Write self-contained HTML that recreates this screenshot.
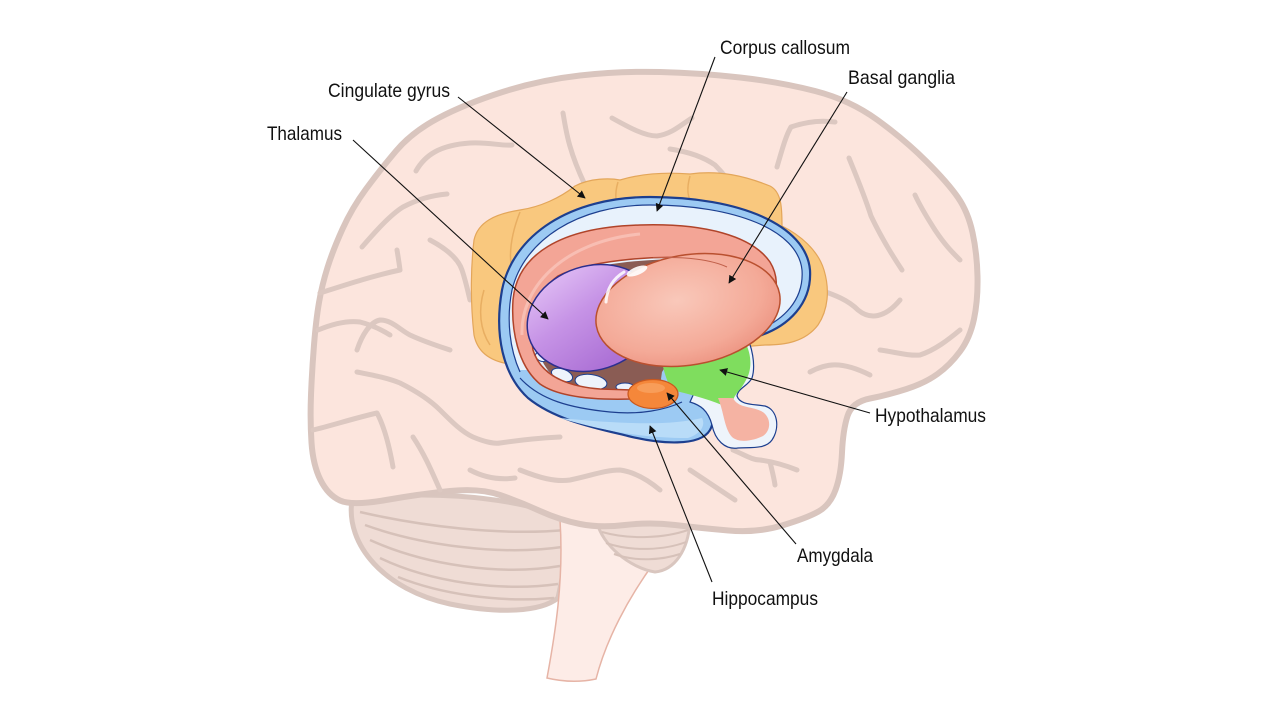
<!DOCTYPE html>
<html><head><meta charset="utf-8"><style>
html,body{margin:0;padding:0;background:#fff;}
svg{display:block;}
text{font-family:"Liberation Sans",Arial,sans-serif;font-size:19.5px;fill:#111;}
</style></head><body>
<svg width="1280" height="720" viewBox="0 0 1280 720" xmlns="http://www.w3.org/2000/svg">
<defs>
<marker id="ah" viewBox="0 0 10 10" refX="9" refY="5" markerWidth="8" markerHeight="8" markerUnits="userSpaceOnUse" orient="auto">
<path d="M0,0 L10,5 L0,10 Z" fill="#111"/></marker>
<linearGradient id="thal" x1="0" y1="0" x2="0.4" y2="1">
<stop offset="0" stop-color="#e4c4f6"/><stop offset="0.5" stop-color="#c693e6"/><stop offset="1" stop-color="#ad72d6"/></linearGradient>
<radialGradient id="lent" cx="0.45" cy="0.4" r="0.65">
<stop offset="0" stop-color="#f9c8ba"/><stop offset="0.7" stop-color="#f4aa98"/><stop offset="1" stop-color="#ec9280"/></radialGradient>
</defs>
<rect width="1280" height="720" fill="#fff"/>

<!-- cerebellum left -->
<path d="M352,500 C345,545 385,590 450,604 C500,614 540,612 558,598 C564,570 568,545 574,522 L560,515 C500,495 420,490 352,500 Z" fill="#efdcd5" stroke="#d9c6bf" stroke-width="5"/>
<g fill="none" stroke="#d6c1b9" stroke-width="2.5">
<path d="M360,512 C420,526 500,536 566,530"/>
<path d="M365,525 C420,545 500,556 562,547"/>
<path d="M370,540 C425,565 500,576 560,566"/>
<path d="M380,558 C430,582 500,592 558,584"/>
<path d="M398,577 C440,594 500,603 554,598"/>
</g>
<!-- brainstem -->
<path d="M560,520 C564,580 555,635 547,678 Q572,684 596,679 C606,640 628,598 656,560 L650,520 Z" fill="#fdece7" stroke="#e6b4a6" stroke-width="1.5"/>
<!-- pons striped piece -->
<path d="M597,522 C602,545 630,568 655,572 C675,570 688,550 690,522 Z" fill="#efdcd5" stroke="#d9c6bf" stroke-width="3"/>
<g fill="none" stroke="#d6c1b9" stroke-width="2">
<path d="M602,532 C630,540 665,538 688,530"/>
<path d="M606,543 C632,552 665,550 686,542"/>
<path d="M614,554 C636,562 662,560 680,554"/>
</g>

<!-- cerebrum -->
<path d="M340,500.5 Q328,495 320.5,480 Q313,465 311.5,442.5 Q310,420 311,395 Q312,370 314,345 Q316,320 319,302.5 Q322,285 327.5,267.5 Q333,250 342.5,229 Q352,208 366,189 Q380,170 396,151 Q412,132 438.5,118 Q465,104 502.5,92 Q540,80 580,75.5 Q620,71 660,72 Q700,73 740,77.5 Q780,82 815,91 Q850,100 877.5,120 Q905,140 926.5,161.5 Q948,183 958,197.5 Q968,212 972.5,232.5 Q977,253 977.5,276.5 Q978,300 974,319 Q970,338 960,351.5 Q950,365 937.5,374 Q925,383 906.5,389 Q888,395 870,398.5 Q852,402 847.5,416 Q843,430 842,452.5 Q841,475 835.5,490 Q830,505 818.5,511.5 Q807,518 782,525.5 Q757,533 728.5,530.5 Q700,528 675,525 Q650,522 625,525 Q600,528 580,524 Q560,520 540,511 Q520,502 500,495 Q480,488 450,491 Q420,494 386,500 Q352,506 340,500.5 Z" fill="#fce5dd" stroke="#d9c5be" stroke-width="6"/>

<!-- sulci -->
<g fill="none" stroke="#dcc8c1" stroke-width="5" stroke-linecap="round" stroke-linejoin="round">
<path d="M416,171 C425,155 440,145 470,143 C490,142 500,146 512,145"/>
<path d="M563,113 C566,130 568,149 585,185"/>
<path d="M612,118 C630,128 645,136 657,136 C672,134 682,124 692,118"/>
<path d="M670,149 C690,152 705,158 715,165 C725,175 732,185 737,194"/>
<path d="M777,167 C782,150 786,135 791,127 C805,122 820,120 835,122"/>
<path d="M849,158 C858,180 866,200 871,216 C880,235 892,255 902,270"/>
<path d="M915,195 C922,210 930,222 935,230 C945,245 952,252 960,260"/>
<path d="M880,350 C895,352 908,356 920,355 C935,350 948,340 960,330"/>
<path d="M820,290 C835,295 848,300 858,310 C870,320 885,318 900,300"/>
<path d="M810,372 C825,364 840,360 870,375"/>
<path d="M362,247 C375,232 390,215 403,207 C420,198 435,195 447,194"/>
<path d="M318,330 C330,325 345,320 360,322 C372,325 382,330 390,335"/>
<path d="M357,350 C362,335 370,322 380,320 C392,320 400,330 410,335 C425,342 438,346 450,350"/>
<path d="M357,372 C372,375 388,378 400,383 C418,392 430,400 440,410 C452,422 462,432 473,437 C485,442 495,444 500,443 C520,440 540,438 560,437"/>
<path d="M313,430 C330,426 355,418 377,413 C385,428 390,450 393,467"/>
<path d="M413,437 C425,455 432,472 440,490"/>
<path d="M320,293 C345,285 372,276 400,270 C399,262 398,256 397,250"/>
<path d="M520,470 C540,478 555,482 570,480 C590,476 605,470 620,470 C635,472 648,480 660,490"/>
<path d="M733,450 C745,455 752,460 760,460 C775,462 787,466 797,470"/>
<path d="M770,462 C772,470 774,478 775,485"/>
<path d="M430,240 C445,248 458,258 462,270 C466,282 468,292 470,300"/>
<path d="M470,470 C485,478 500,480 515,478"/>
<path d="M690,470 C705,480 720,490 735,500"/>
</g>

<!-- cingulate gyrus -->
<path d="M474,240 C478,222 495,214 520,210 C540,207 560,198 575,186 C590,178 610,178 620,180 C640,174 665,172 690,174 C720,170 745,176 770,186 C782,192 782,210 782,226 C800,235 818,250 824,270 C830,290 828,310 818,325 C805,342 785,345 765,345 L520,365 C495,364 478,355 474,335 C470,300 471,265 474,240 Z" fill="#f9c87e" stroke="#e3a65a" stroke-width="1.2"/>
<g fill="none" stroke="#e8ae62" stroke-width="1.5">
<path d="M520,212 C512,232 508,252 512,272"/>
<path d="M618,182 C614,195 616,205 620,210"/>
<path d="M690,176 C686,190 688,198 692,204"/>
<path d="M780,228 C790,250 800,270 806,292"/>
<path d="M484,290 C478,310 480,330 490,345"/>
</g>

<!-- limbic blue outer -->
<path d="M752,338 C790,328 812,302 810,270 C806,225 740,197 650,197 C570,197 513,235 502,290 C494,335 503,375 528,398 C555,420 595,428 628,436 C660,444 700,447 710,430 C718,415 708,402 695,398 C690,380 720,360 752,338 Z" fill="#9ccaf3" stroke="#1d3f8f" stroke-width="2.2"/>
<path d="M560,418 C600,430 640,438 688,438 C700,434 706,426 702,418 C670,426 620,424 560,418 Z" fill="#b9dcf8"/>
<!-- corpus callosum interior -->
<path d="M748,334 C786,322 804,298 802,270 C798,230 735,205 650,205 C578,205 524,240 512,290 C506,320 510,350 520,370 L700,370 Z" fill="#e8f2fc"/>
<path d="M748,334 C786,322 804,298 802,270 C798,230 735,205 650,205 C578,205 524,240 512,290 C506,320 510,350 520,372" fill="none" stroke="#1d3f8f" stroke-width="1.2"/>
<path d="M520,378 C540,400 570,408 610,412 C640,415 665,410 682,402" fill="none" stroke="#1d3f8f" stroke-width="1.2"/>

<!-- hypothalamus outline -->
<path d="M745,334 C752,345 756,365 752,378 C748,386 738,388 737,396 C740,405 752,404 765,406 C778,410 780,428 772,440 C765,450 748,447 738,448 C725,450 715,440 712,425 C708,410 700,405 690,402 L700,380 Z" fill="#eef4fb" stroke="#1d3f8f" stroke-width="1.2"/>

<!-- brown ventricle -->
<path d="M545,290 C565,266 640,256 715,260 L725,266 L690,330 L662,372 L660,386 C630,391 585,390 560,381 C540,369 532,340 535,315 Z" fill="#8a5c54"/>
<g fill="#eef3fb" stroke="#1d3f8f" stroke-width="1">
<ellipse cx="541" cy="357" rx="6" ry="4" transform="rotate(30 541 357)"/>
<ellipse cx="562" cy="375" rx="11" ry="6" transform="rotate(20 562 375)"/>
<ellipse cx="591" cy="382" rx="16" ry="7.5" transform="rotate(8 591 382)"/>
<ellipse cx="625" cy="387" rx="9" ry="4"/>
</g>

<!-- green hypothalamus -->
<path d="M662,362 C695,362 725,358 745,342 C752,355 752,370 746,380 C740,392 732,395 733,405 L722,405 C705,398 688,394 672,390 C667,382 664,372 662,362 Z" fill="#7fdd5e"/>
<!-- pituitary -->
<path d="M718,398 C724,412 724,428 732,437 C740,444 755,440 763,436 C772,430 771,416 761,411 C750,406 738,408 733,398 Z" fill="#f5b3a3"/>

<!-- caudate -->
<path d="M632,399 C600,400 560,398 540,384 C518,366 511,330 513,300 C517,255 560,227 640,225 C705,223 752,236 770,262 C778,275 778,290 772,300 C762,280 740,264 700,259 C650,254 585,262 558,276 C536,292 528,322 533,350 C540,373 562,386 600,389 L632,390 Z" fill="#f3a596" stroke="#b0442a" stroke-width="1.5"/>
<path d="M522,335 C520,290 560,242 640,234" fill="none" stroke="#f9c9bf" stroke-width="3" opacity="0.7"/>

<!-- thalamus -->
<ellipse cx="592" cy="318" rx="66" ry="52" transform="rotate(-18 592 318)" fill="url(#thal)" stroke="#2c2f8e" stroke-width="1.5"/>

<!-- lentiform (basal ganglia) -->
<ellipse cx="688" cy="310" rx="93" ry="55" transform="rotate(-10 688 310)" fill="url(#lent)" stroke="#b9502f" stroke-width="1.5"/>
<path d="M653,258 C685,256 712,260 727,267" fill="none" stroke="#c0604a" stroke-width="1"/>
<path d="M606,302 C607,288 614,278 624,272" fill="none" stroke="#fff" stroke-width="3" stroke-linecap="round" opacity="0.85"/>
<ellipse cx="637" cy="271" rx="11" ry="4" transform="rotate(-22 637 271)" fill="#fff" opacity="0.9"/>

<!-- amygdala -->
<ellipse cx="653" cy="394" rx="25" ry="14.5" fill="#f5873a" stroke="#c9581e" stroke-width="1.2"/>
<ellipse cx="651" cy="388" rx="14" ry="5" fill="#f9a767" opacity="0.7"/>

<!-- leader lines -->
<g stroke="#111" stroke-width="1.1" fill="none" marker-end="url(#ah)">
<line x1="715" y1="57" x2="657" y2="211"/>
<line x1="847" y1="92" x2="729" y2="283"/>
<line x1="458" y1="97" x2="585" y2="198"/>
<line x1="353" y1="140" x2="548" y2="319"/>
<line x1="870" y1="413" x2="720" y2="370"/>
<line x1="796" y1="544" x2="667" y2="393"/>
<line x1="712" y1="582" x2="650" y2="426"/>
</g>

<!-- labels -->
<text x="720" y="54" textLength="130" lengthAdjust="spacingAndGlyphs">Corpus callosum</text>
<text x="848" y="84" textLength="107" lengthAdjust="spacingAndGlyphs">Basal ganglia</text>
<text x="328" y="97" textLength="122" lengthAdjust="spacingAndGlyphs">Cingulate gyrus</text>
<text x="267" y="140" textLength="75" lengthAdjust="spacingAndGlyphs">Thalamus</text>
<text x="875" y="422" textLength="111" lengthAdjust="spacingAndGlyphs">Hypothalamus</text>
<text x="797" y="562" textLength="76" lengthAdjust="spacingAndGlyphs">Amygdala</text>
<text x="712" y="605" textLength="106" lengthAdjust="spacingAndGlyphs">Hippocampus</text>
</svg>
</body></html>
